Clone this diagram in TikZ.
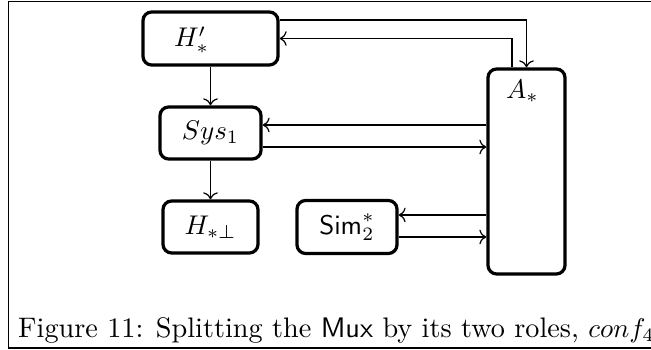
\documentclass[tikz,border=0pt]{standalone}
\usetikzlibrary{arrows.meta}
\begin{document}
\begin{tikzpicture}[x=0.37pt,y=-0.37pt,
  font=\fontsize{10.45}{12.5}\selectfont,
  blk/.style={draw, line width=1.2pt, rounded corners=3.2pt, inner sep=0pt},
  arr/.style={->, line width=0.45pt},
  frameline/.style={line width=0.4pt}]
\useasboundingbox (0,0) rectangle (651,350);
% frame
\draw[frameline] (651,1.5) -- (8.5,1.5) -- (8.5,348) -- (651,348);
% blocks
\node[blk, minimum width=135*0.37pt, minimum height=53*0.37pt,
  label={[xshift=-19*0.37pt, yshift=-1.5*0.37pt]center:$H'_*$}] (h) at (210.5,38.5) {};
\node[blk, minimum width=77*0.37pt, minimum height=205*0.37pt,
  label={[anchor=center, xshift=-4*0.37pt, yshift=-24*0.37pt]north:$A_*$}] (a) at (526.5,171.5) {};
\node[blk, minimum width=101*0.37pt, minimum height=52*0.37pt] (s) at (210.5,133) {$Sys_1$};
\node[blk, minimum width=95*0.37pt, minimum height=52*0.37pt] (hp) at (210.5,227) {$H_{*\perp}$};
\node[blk, minimum width=100*0.37pt, minimum height=53*0.37pt] (sim) at (347,227) {$\mathsf{Sim}_2^*$};
% connectors
\draw[arr] (h.east |- 0,20) -| (a.north);
\draw[arr] (a.north -| 512,0) |- (h.east);
\draw[arr] (h.south) -- (s.north);
\draw[arr] (s.south) -- (hp.north);
\draw[arr] (a.west |- 0,125) -- (s.east |- 0,125);
\draw[arr] (s.east |- 0,147) -- (a.west |- 0,147);
\draw[arr] (a.west |- 0,215) -- (sim.east |- 0,215);
\draw[arr] (sim.east |- 0,237) -- (a.west |- 0,237);
% caption
\node (cap) at (336.5,330) {Figure 11: Splitting the \textsf{Mux} by its two roles, $conf_4$};
\end{tikzpicture}
\end{document}
